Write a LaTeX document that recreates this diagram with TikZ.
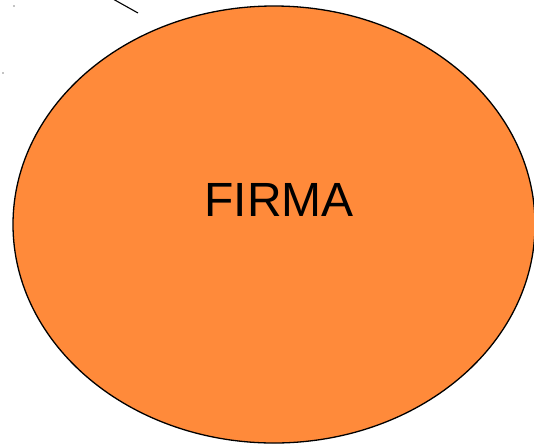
\documentclass[tikz,border=0pt]{standalone}
\usepackage{fontspec}
\setmainfont{Liberation Sans}
\usepackage{xcolor}
\usetikzlibrary{shapes.geometric}
\definecolor{firmaorange}{HTML}{FF8A3A}

\begin{document}
\begin{tikzpicture}[
    x=1pt, y=-1pt,
    blob/.style={ellipse, draw=black, fill=firmaorange, line width=1.3pt, minimum width=522pt, minimum height=437pt, inner sep=0pt},
    tag/.style={font=\fontsize{48}{52}\selectfont, text=black, inner sep=0pt},
    speck/.style={circle, fill=black, inner sep=0pt, minimum size=1.3pt}
]
    \useasboundingbox (0,0) rectangle (534,445);
    \node (firma) [blob] at (274,224.5) {};
    \node (label) [tag, anchor=base] at (279,216) {FIRMA};

    \coordinate (cutA) at (113,-1);
    \coordinate (cutB) at (138,13);
    \draw [line width=1.1pt] (cutA) -- (cutB);

    \node (speckA) [speck] at (14,6) {};
    \node (speckB) [speck] at (3,73) {};
\end{tikzpicture}
\end{document}
